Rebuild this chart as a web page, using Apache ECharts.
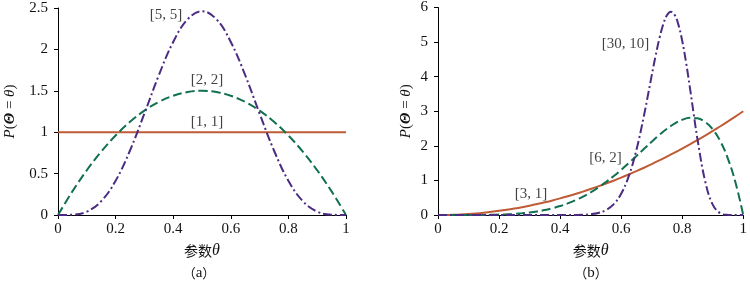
<!DOCTYPE html>
<html><head><meta charset="utf-8">
<script src="https://cdn.jsdelivr.net/npm/echarts@6/dist/echarts.min.js"></script>
<style>html,body{margin:0;padding:0;background:#fff}#c{width:750px;height:284px}</style>
</head><body><div id="c"></div>
<script>
// ---- data ----
const xLeft = [0,0.05,0.1,0.15,0.2,0.25,0.3,0.35,0.4,0.45,0.5,0.55,0.6,0.65,0.7,0.75,0.8,0.85,0.9,0.95,1];
const beta11 = [1,1,1,1,1,1,1,1,1,1,1,1,1,1,1,1,1,1,1,1,1];
const beta22 = [0,0.285,0.54,0.765,0.96,1.125,1.26,1.365,1.44,1.485,1.5,1.485,1.44,1.365,1.26,1.125,0.96,0.765,0.54,0.285,0];
const beta55 = [0,0.003,0.041,0.167,0.413,0.779,1.225,1.688,2.09,2.364,2.461,2.364,2.09,1.688,1.225,0.779,0.413,0.167,0.041,0.003,0];

const xRight = [0,0.025,0.05,0.075,0.1,0.125,0.15,0.175,0.2,0.225,0.25,0.275,0.3,0.325,0.35,0.375,0.4,0.425,0.45,0.475,0.5,0.525,0.55,0.575,0.6,0.625,0.65,0.675,0.7,0.725,0.75,0.775,0.8,0.825,0.85,0.875,0.9,0.925,0.95,0.975,1];
const beta31 = [0,0.002,0.008,0.017,0.03,0.047,0.068,0.092,0.12,0.152,0.188,0.227,0.27,0.317,0.368,0.422,0.48,0.542,0.608,0.677,0.75,0.827,0.908,0.992,1.08,1.172,1.268,1.367,1.47,1.577,1.688,1.802,1.92,2.042,2.168,2.297,2.43,2.567,2.708,2.852,3];
const beta62 = [0,0,0,0,0,0.001,0.003,0.006,0.011,0.019,0.031,0.048,0.071,0.103,0.143,0.195,0.258,0.335,0.426,0.533,0.656,0.796,0.951,1.122,1.306,1.502,1.706,1.913,2.118,2.314,2.492,2.642,2.753,2.809,2.795,2.693,2.48,2.133,1.625,0.925,0];
const x3010 = [0,0.4,0.45,0.475,0.5,0.525,0.55,0.575,0.6,0.625,0.65,0.675,0.6875,0.7,0.7125,0.725,0.7375,0.75,0.7625,0.775,0.7875,0.8,0.8125,0.825,0.8375,0.85,0.875,0.9,0.925,0.95,0.975,1];
const beta3010 = [0,0,0.003,0.008,0.023,0.06,0.142,0.308,0.614,1.122,1.881,2.884,3.45,4.029,4.59,5.094,5.503,5.774,5.878,5.79,5.505,5.037,4.418,3.697,2.934,2.194,0.986,0.299,0.05,0.003,0,0];

const xTicks = ['0','0.2','0.4','0.6','0.8','1'];
const yTicksLeft = ['0','0.5','1','1.5','2','2.5'];
const yTicksRight = ['0','1','2','3','4','5','6'];
const labelsLeft = [{name:'[5, 5]', x:0.375, y:2.42},{name:'[2, 2]', x:0.517, y:1.63},{name:'[1, 1]', x:0.517, y:1.12}];
const labelsRight = [{name:'[30, 10]', x:0.614, y:4.93},{name:'[6, 2]', x:0.549, y:1.64},{name:'[3, 1]', x:0.305, y:0.61}];
const panelTags = ['a', 'b'];

// ---- styling ----
const SERIF = 'Liberation Serif';
const CJK = 'Noto Sans CJK SC';
const TXT = '#111';
const ORANGE = '#BF5B35', GREEN = '#10704F', PURPLE = '#4B2C82';
const zip = (xs, ys) => xs.map((x, i) => [x, ys[i]]);

function xAxis(gi){
  return {type:'value', gridIndex:gi, min:0, max:1, interval:0.2,
    name:'{a|参数}{b|θ}', nameLocation:'middle', nameGap:28,
    nameTextStyle:{rich:{a:{fontFamily:CJK,fontSize:14,color:TXT},b:{fontFamily:SERIF,fontStyle:'italic',fontSize:16,color:TXT}}},
    axisLine:{lineStyle:{color:'#000',width:1}}, axisTick:{inside:false,length:4,lineStyle:{color:'#000'}},
    axisLabel:{fontFamily:SERIF,fontSize:15,color:TXT,margin:7,formatter:v=>xTicks[Math.round(v/0.2)]},
    splitLine:{show:false}};
}
function yAxis(gi, max, interval, ticks, gap){
  return {type:'value', gridIndex:gi, min:0, max:max, interval:interval,
    name:'{p|P}{q|(}{t|Θ}{q| = }{s|θ}{q|)}', nameLocation:'middle', nameGap:gap, nameRotate:90,
    nameTextStyle:{rich:{p:{fontFamily:SERIF,fontStyle:'italic',fontSize:15,color:TXT},q:{fontFamily:SERIF,fontSize:15,color:TXT},t:{fontFamily:SERIF,fontStyle:'italic',fontWeight:'bold',fontSize:15,color:TXT},s:{fontFamily:SERIF,fontStyle:'italic',fontSize:15,color:TXT}}},
    axisLine:{show:true,lineStyle:{color:'#000',width:1}}, axisTick:{show:true,inside:false,length:4,lineStyle:{color:'#000'}},
    axisLabel:{fontFamily:SERIF,fontSize:15,color:TXT,margin:10,formatter:v=>ticks[Math.round(v/interval)]},
    splitLine:{show:false}};
}
function line(gi, data, color, type, z){
  return {type:'line', xAxisIndex:gi, yAxisIndex:gi, data:data, showSymbol:false, symbol:'none',
    smooth:0.4, z:z, animation:false,
    lineStyle:{color:color, width:2, type:type}};
}
function labels(gi, arr){
  return {type:'scatter', xAxisIndex:gi, yAxisIndex:gi, symbolSize:0, silent:true, z:10,
    data:arr.map(d=>({value:[d.x,d.y], name:d.name})),
    label:{show:true, position:'inside', formatter:p=>p.name, fontFamily:SERIF, fontSize:15, color:TXT, textBorderWidth:0}};
}
function tag(cx, t){
  return {type:'text', x:cx, y:273, style:{text:'{p|（}{a|'+t+'}{p|）}', align:'center', verticalAlign:'middle',
    rich:{p:{fontFamily:CJK,fontSize:13,fill:TXT,color:TXT},a:{fontFamily:SERIF,fontSize:15,fill:TXT,color:TXT}}}};
}

const chart = echarts.init(document.getElementById('c'), null, {renderer:'canvas'});
chart.setOption({
  animation:false,
  textStyle:{fontFamily:SERIF},
  grid:[{left:58, right:404, top:8, bottom:69},{left:438, right:4, top:7, bottom:69}],
  xAxis:[xAxis(0), xAxis(1)],
  yAxis:[yAxis(0, 2.5, 0.5, yTicksLeft, 40), yAxis(1, 6, 1, yTicksRight, 24)],
  series:[
    line(0, zip(xLeft, beta11), ORANGE, 'solid', 3),
    line(0, zip(xLeft, beta22), GREEN, [9,4], 4),
    line(0, zip(xLeft, beta55), PURPLE, [9,3,2,3], 5),
    line(1, zip(xRight, beta31), ORANGE, 'solid', 3),
    line(1, zip(xRight, beta62), GREEN, [9,4], 4),
    line(1, zip(x3010, beta3010), PURPLE, [9,3,2,3], 5),
    labels(0, labelsLeft), labels(1, labelsRight)
  ],
  graphic:[tag(199, panelTags[0]), tag(591, panelTags[1])]
});
</script></body></html>
